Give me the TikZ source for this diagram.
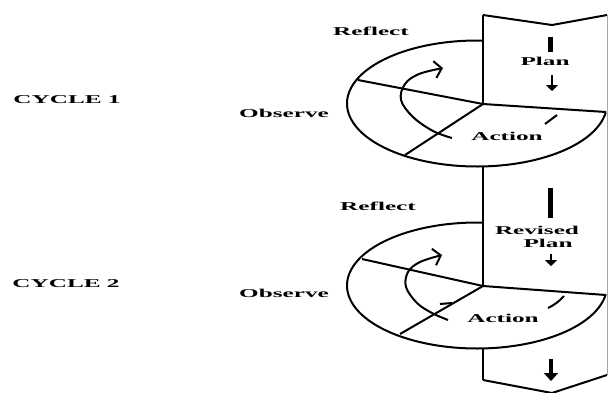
\documentclass[tikz,border=0pt]{standalone}
\usepackage{fontspec}
\newfontfamily\labfont[FakeStretch=2.1]{Liberation Serif}
\usetikzlibrary{arrows.meta}
\begin{document}
\begin{tikzpicture}[x=1pt,y=-1pt,
  lab/.style={font=\labfont\bfseries\fontsize{12}{12}\selectfont, inner sep=0pt, anchor=center},
  edge/.style={line width=2pt, line join=miter},
  thickbar/.style={line width=5pt},
  downarrow/.style={line width=2.2pt, -{Triangle[length=6pt,width=12pt]}},
  bigdown/.style={line width=4pt, -{Triangle[length=8pt,width=14pt]}},
  turn/.style={line width=2pt, -{Straight Barb[length=7pt,width=17pt]}},
  tick/.style={line width=2pt}]
\useasboundingbox (0,0) rectangle (608,392);
% band outline
\coordinate (tl) at (483,15);
\coordinate (tn) at (552,25);
\coordinate (tr) at (607,15);
\coordinate (bl) at (483,380);
\coordinate (bn) at (552,393);
\coordinate (br) at (607,375);
\draw[gray!70, line width=0.8pt] (tr) -- (br);
\draw[edge] (tl) -- (tn) -- (tr);
\draw[edge] (bl) -- (bn) -- (br);
% cycle 1
\coordinate (c1) at (483,104);
\coordinate (e1r) at (606,112);
\coordinate (e1u) at (358,80);
\coordinate (e1d) at (405,155);
\coordinate (e1b) at (483,166.4);
\draw[edge] plot[domain=272.6:8, samples=150, variable=\t] ({477+130*cos(\t)},{103.5+63*sin(\t)});
\draw[edge] (tl) -- (c1);
\draw[edge] (c1) -- (e1r);
\draw[edge] (c1) -- (e1u);
\draw[edge] (c1) -- (e1d);
% cycle 2
\coordinate (c2) at (483,286);
\coordinate (e2r) at (606,295);
\coordinate (e2u) at (362,259);
\coordinate (e2d) at (400,334);
\coordinate (e2t) at (483,222);
\coordinate (e2b) at (483,348.4);
\draw[edge] plot[domain=272.6:8, samples=150, variable=\t] ({477+130*cos(\t)},{285.5+63*sin(\t)});
\draw[edge] (e1b) -- (c2);
\draw[edge] (c2) -- (e2r);
\draw[edge] (c2) -- (e2u);
\draw[edge] (c2) -- (e2d);
\draw[edge] (e2b) -- (bl);
% circular arrows
\draw[turn] plot[smooth, tension=0.6] coordinates {(452,138) (433,131) (413,117) (401,100) (405,84) (419,74) (443,68)};
\draw[turn] plot[smooth, tension=0.6] coordinates {(448,320) (432,313) (417,303) (406,287) (408,272) (420,262) (442,255)};
% ticks
\draw[tick] (545,124) -- (557,115);
\draw[tick] (548,308) to[bend right=10] (564,296);
\draw[tick] (440,304) -- (452,303);
% band arrows
\draw[thickbar] (550,37) -- (550,52);
\draw[downarrow] (552,75) -- (552,91);
\draw[thickbar] (550,188) -- (550,218);
\draw[downarrow] (551,254) -- (551,266);
\draw[bigdown] (551,359) -- (551,381);
% labels
\node[lab] (cyc1) at (67,100) {CYCLE 1};
\node[lab] (cyc2) at (66,284) {CYCLE 2};
\node[lab] (ref1) at (371,31) {Reflect};
\node[lab] (ref2) at (378,206) {Reflect};
\node[lab] (obs1) at (284,113) {Observe};
\node[lab] (obs2) at (284,293) {Observe};
\node[lab] (plan1) at (545,61) {Plan};
\node[lab] (act1) at (507,136) {Action};
\node[lab] (act2) at (503,318) {Action};
\node[lab] (rev) at (537,230) {Revised};
\node[lab] (plan2) at (548,243) {Plan};
\end{tikzpicture}
\end{document}
